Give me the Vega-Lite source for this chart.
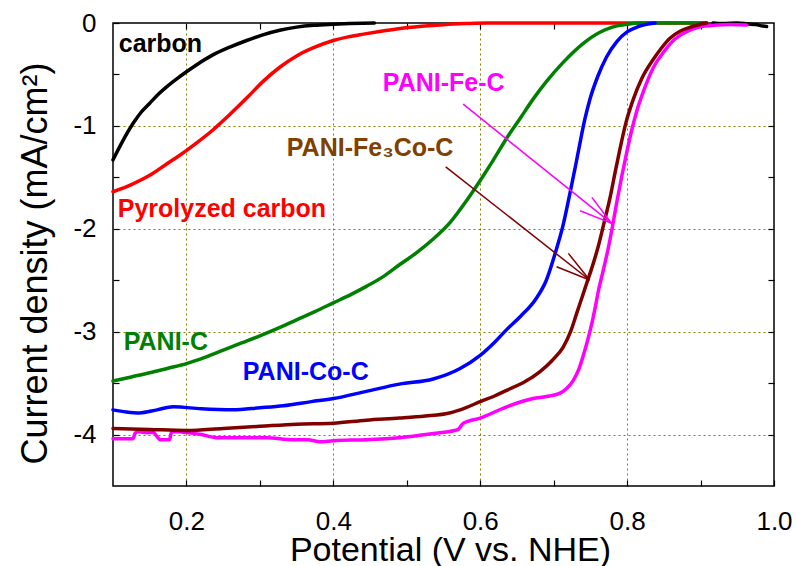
{
  "$schema": "https://vega.github.io/schema/vega-lite/v6.json",
  "width": 661,
  "height": 463,
  "autosize": "none",
  "padding": {"left": 113, "top": 23, "right": 22, "bottom": 80},
  "background": "white",
  "config": {
    "view": {"stroke": "black", "strokeWidth": 1.5},
    "axis": {"labelFont": "Liberation Sans", "titleFont": "Liberation Sans", "labelColor": "black", "titleColor": "black", "tickColor": "black", "tickWidth": 1.2, "domain": false, "titleFontWeight": "normal"}
  },
  "datasets": {
    "curves": [
      {"s": "carbon", "seg": "a", "x": 0.100, "y": -1.33},
      {"s": "carbon", "seg": "a", "x": 0.113, "y": -1.15},
      {"s": "carbon", "seg": "a", "x": 0.127, "y": -0.98},
      {"s": "carbon", "seg": "a", "x": 0.138, "y": -0.87},
      {"s": "carbon", "seg": "a", "x": 0.150, "y": -0.78},
      {"s": "carbon", "seg": "a", "x": 0.162, "y": -0.69},
      {"s": "carbon", "seg": "a", "x": 0.173, "y": -0.62},
      {"s": "carbon", "seg": "a", "x": 0.191, "y": -0.52},
      {"s": "carbon", "seg": "a", "x": 0.213, "y": -0.41},
      {"s": "carbon", "seg": "a", "x": 0.236, "y": -0.31},
      {"s": "carbon", "seg": "a", "x": 0.259, "y": -0.235},
      {"s": "carbon", "seg": "a", "x": 0.282, "y": -0.17},
      {"s": "carbon", "seg": "a", "x": 0.304, "y": -0.115},
      {"s": "carbon", "seg": "a", "x": 0.327, "y": -0.07},
      {"s": "carbon", "seg": "a", "x": 0.350, "y": -0.04},
      {"s": "carbon", "seg": "a", "x": 0.373, "y": -0.022},
      {"s": "carbon", "seg": "a", "x": 0.400, "y": -0.012},
      {"s": "carbon", "seg": "a", "x": 0.422, "y": -0.006},
      {"s": "carbon", "seg": "a", "x": 0.440, "y": -0.002},
      {"s": "carbon", "seg": "a", "x": 0.456, "y": 0},
      {"s": "carbon", "seg": "b", "x": 0.917, "y": 0},
      {"s": "carbon", "seg": "b", "x": 0.930, "y": -0.005},
      {"s": "carbon", "seg": "b", "x": 0.950, "y": 0},
      {"s": "carbon", "seg": "b", "x": 0.965, "y": -0.01},
      {"s": "carbon", "seg": "b", "x": 0.975, "y": -0.015},
      {"s": "carbon", "seg": "b", "x": 0.985, "y": -0.03},
      {"s": "carbon", "seg": "b", "x": 0.990, "y": -0.035},
      {"s": "pyro", "seg": "a", "x": 0.100, "y": -1.64},
      {"s": "pyro", "seg": "a", "x": 0.125, "y": -1.57},
      {"s": "pyro", "seg": "a", "x": 0.150, "y": -1.48},
      {"s": "pyro", "seg": "a", "x": 0.175, "y": -1.36},
      {"s": "pyro", "seg": "a", "x": 0.191, "y": -1.285},
      {"s": "pyro", "seg": "a", "x": 0.213, "y": -1.17},
      {"s": "pyro", "seg": "a", "x": 0.236, "y": -1.04},
      {"s": "pyro", "seg": "a", "x": 0.259, "y": -0.89},
      {"s": "pyro", "seg": "a", "x": 0.282, "y": -0.73},
      {"s": "pyro", "seg": "a", "x": 0.304, "y": -0.57},
      {"s": "pyro", "seg": "a", "x": 0.327, "y": -0.43},
      {"s": "pyro", "seg": "a", "x": 0.350, "y": -0.32},
      {"s": "pyro", "seg": "a", "x": 0.373, "y": -0.24},
      {"s": "pyro", "seg": "a", "x": 0.400, "y": -0.17},
      {"s": "pyro", "seg": "a", "x": 0.420, "y": -0.135},
      {"s": "pyro", "seg": "a", "x": 0.441, "y": -0.108},
      {"s": "pyro", "seg": "a", "x": 0.465, "y": -0.08},
      {"s": "pyro", "seg": "a", "x": 0.486, "y": -0.058},
      {"s": "pyro", "seg": "a", "x": 0.520, "y": -0.032},
      {"s": "pyro", "seg": "a", "x": 0.550, "y": -0.016},
      {"s": "pyro", "seg": "a", "x": 0.580, "y": -0.006},
      {"s": "pyro", "seg": "a", "x": 0.610, "y": 0},
      {"s": "pyro", "seg": "a", "x": 0.700, "y": 0},
      {"s": "pyro", "seg": "a", "x": 0.800, "y": 0},
      {"s": "pyro", "seg": "a", "x": 0.908, "y": 0},
      {"s": "pc", "seg": "a", "x": 0.100, "y": -3.48},
      {"s": "pc", "seg": "a", "x": 0.125, "y": -3.44},
      {"s": "pc", "seg": "a", "x": 0.150, "y": -3.40},
      {"s": "pc", "seg": "a", "x": 0.175, "y": -3.355},
      {"s": "pc", "seg": "a", "x": 0.200, "y": -3.31},
      {"s": "pc", "seg": "a", "x": 0.225, "y": -3.25},
      {"s": "pc", "seg": "a", "x": 0.250, "y": -3.18},
      {"s": "pc", "seg": "a", "x": 0.275, "y": -3.11},
      {"s": "pc", "seg": "a", "x": 0.300, "y": -3.04},
      {"s": "pc", "seg": "a", "x": 0.325, "y": -2.965},
      {"s": "pc", "seg": "a", "x": 0.350, "y": -2.885},
      {"s": "pc", "seg": "a", "x": 0.375, "y": -2.805},
      {"s": "pc", "seg": "a", "x": 0.400, "y": -2.72},
      {"s": "pc", "seg": "a", "x": 0.425, "y": -2.635},
      {"s": "pc", "seg": "a", "x": 0.445, "y": -2.56},
      {"s": "pc", "seg": "a", "x": 0.470, "y": -2.455},
      {"s": "pc", "seg": "a", "x": 0.490, "y": -2.35},
      {"s": "pc", "seg": "a", "x": 0.513, "y": -2.235},
      {"s": "pc", "seg": "a", "x": 0.536, "y": -2.10},
      {"s": "pc", "seg": "a", "x": 0.560, "y": -1.93},
      {"s": "pc", "seg": "a", "x": 0.581, "y": -1.73},
      {"s": "pc", "seg": "a", "x": 0.600, "y": -1.53},
      {"s": "pc", "seg": "a", "x": 0.618, "y": -1.33},
      {"s": "pc", "seg": "a", "x": 0.636, "y": -1.12},
      {"s": "pc", "seg": "a", "x": 0.655, "y": -0.92},
      {"s": "pc", "seg": "a", "x": 0.672, "y": -0.74},
      {"s": "pc", "seg": "a", "x": 0.690, "y": -0.57},
      {"s": "pc", "seg": "a", "x": 0.712, "y": -0.39},
      {"s": "pc", "seg": "a", "x": 0.740, "y": -0.20},
      {"s": "pc", "seg": "a", "x": 0.763, "y": -0.09},
      {"s": "pc", "seg": "a", "x": 0.780, "y": -0.04},
      {"s": "pc", "seg": "a", "x": 0.800, "y": -0.012},
      {"s": "pc", "seg": "a", "x": 0.820, "y": 0},
      {"s": "pc", "seg": "a", "x": 0.908, "y": 0},
      {"s": "pcoc", "seg": "a", "x": 0.100, "y": -3.76},
      {"s": "pcoc", "seg": "a", "x": 0.118, "y": -3.78},
      {"s": "pcoc", "seg": "a", "x": 0.136, "y": -3.79},
      {"s": "pcoc", "seg": "a", "x": 0.160, "y": -3.76},
      {"s": "pcoc", "seg": "a", "x": 0.182, "y": -3.73},
      {"s": "pcoc", "seg": "a", "x": 0.220, "y": -3.75},
      {"s": "pcoc", "seg": "a", "x": 0.263, "y": -3.76},
      {"s": "pcoc", "seg": "a", "x": 0.300, "y": -3.74},
      {"s": "pcoc", "seg": "a", "x": 0.332, "y": -3.72},
      {"s": "pcoc", "seg": "a", "x": 0.370, "y": -3.68},
      {"s": "pcoc", "seg": "a", "x": 0.400, "y": -3.65},
      {"s": "pcoc", "seg": "a", "x": 0.445, "y": -3.58},
      {"s": "pcoc", "seg": "a", "x": 0.490, "y": -3.51},
      {"s": "pcoc", "seg": "a", "x": 0.536, "y": -3.46},
      {"s": "pcoc", "seg": "a", "x": 0.572, "y": -3.36},
      {"s": "pcoc", "seg": "a", "x": 0.600, "y": -3.23},
      {"s": "pcoc", "seg": "a", "x": 0.620, "y": -3.10},
      {"s": "pcoc", "seg": "a", "x": 0.636, "y": -2.98},
      {"s": "pcoc", "seg": "a", "x": 0.655, "y": -2.85},
      {"s": "pcoc", "seg": "a", "x": 0.676, "y": -2.68},
      {"s": "pcoc", "seg": "a", "x": 0.690, "y": -2.50},
      {"s": "pcoc", "seg": "a", "x": 0.702, "y": -2.24},
      {"s": "pcoc", "seg": "a", "x": 0.713, "y": -1.96},
      {"s": "pcoc", "seg": "a", "x": 0.722, "y": -1.66},
      {"s": "pcoc", "seg": "a", "x": 0.730, "y": -1.38},
      {"s": "pcoc", "seg": "a", "x": 0.736, "y": -1.16},
      {"s": "pcoc", "seg": "a", "x": 0.742, "y": -0.95},
      {"s": "pcoc", "seg": "a", "x": 0.749, "y": -0.75},
      {"s": "pcoc", "seg": "a", "x": 0.760, "y": -0.52},
      {"s": "pcoc", "seg": "a", "x": 0.772, "y": -0.33},
      {"s": "pcoc", "seg": "a", "x": 0.786, "y": -0.18},
      {"s": "pcoc", "seg": "a", "x": 0.800, "y": -0.087},
      {"s": "pcoc", "seg": "a", "x": 0.815, "y": -0.035},
      {"s": "pcoc", "seg": "a", "x": 0.838, "y": 0},
      {"s": "pfec", "seg": "a", "x": 0.100, "y": -4.04},
      {"s": "pfec", "seg": "a", "x": 0.127, "y": -4.04},
      {"s": "pfec", "seg": "a", "x": 0.130, "y": -3.99},
      {"s": "pfec", "seg": "a", "x": 0.133, "y": -3.97},
      {"s": "pfec", "seg": "a", "x": 0.145, "y": -3.98},
      {"s": "pfec", "seg": "a", "x": 0.155, "y": -3.98},
      {"s": "pfec", "seg": "a", "x": 0.160, "y": -4.02},
      {"s": "pfec", "seg": "a", "x": 0.164, "y": -4.05},
      {"s": "pfec", "seg": "a", "x": 0.177, "y": -4.05},
      {"s": "pfec", "seg": "a", "x": 0.179, "y": -3.99},
      {"s": "pfec", "seg": "a", "x": 0.181, "y": -3.97},
      {"s": "pfec", "seg": "a", "x": 0.200, "y": -3.98},
      {"s": "pfec", "seg": "a", "x": 0.220, "y": -4.00},
      {"s": "pfec", "seg": "a", "x": 0.241, "y": -4.03},
      {"s": "pfec", "seg": "a", "x": 0.270, "y": -4.03},
      {"s": "pfec", "seg": "a", "x": 0.309, "y": -4.03},
      {"s": "pfec", "seg": "a", "x": 0.345, "y": -4.05},
      {"s": "pfec", "seg": "a", "x": 0.365, "y": -4.05},
      {"s": "pfec", "seg": "a", "x": 0.382, "y": -4.07},
      {"s": "pfec", "seg": "a", "x": 0.400, "y": -4.06},
      {"s": "pfec", "seg": "a", "x": 0.445, "y": -4.05},
      {"s": "pfec", "seg": "a", "x": 0.490, "y": -4.03},
      {"s": "pfec", "seg": "a", "x": 0.536, "y": -3.99},
      {"s": "pfec", "seg": "a", "x": 0.565, "y": -3.96},
      {"s": "pfec", "seg": "a", "x": 0.570, "y": -3.95},
      {"s": "pfec", "seg": "a", "x": 0.577, "y": -3.89},
      {"s": "pfec", "seg": "a", "x": 0.600, "y": -3.84},
      {"s": "pfec", "seg": "a", "x": 0.636, "y": -3.73},
      {"s": "pfec", "seg": "a", "x": 0.672, "y": -3.65},
      {"s": "pfec", "seg": "a", "x": 0.690, "y": -3.63},
      {"s": "pfec", "seg": "a", "x": 0.708, "y": -3.60},
      {"s": "pfec", "seg": "a", "x": 0.718, "y": -3.55},
      {"s": "pfec", "seg": "a", "x": 0.727, "y": -3.47},
      {"s": "pfec", "seg": "a", "x": 0.734, "y": -3.37},
      {"s": "pfec", "seg": "a", "x": 0.740, "y": -3.24},
      {"s": "pfec", "seg": "a", "x": 0.746, "y": -3.09},
      {"s": "pfec", "seg": "a", "x": 0.752, "y": -2.92},
      {"s": "pfec", "seg": "a", "x": 0.757, "y": -2.75},
      {"s": "pfec", "seg": "a", "x": 0.761, "y": -2.60},
      {"s": "pfec", "seg": "a", "x": 0.767, "y": -2.42},
      {"s": "pfec", "seg": "a", "x": 0.774, "y": -2.20},
      {"s": "pfec", "seg": "a", "x": 0.780, "y": -1.98},
      {"s": "pfec", "seg": "a", "x": 0.786, "y": -1.74},
      {"s": "pfec", "seg": "a", "x": 0.793, "y": -1.48},
      {"s": "pfec", "seg": "a", "x": 0.800, "y": -1.24},
      {"s": "pfec", "seg": "a", "x": 0.806, "y": -1.05},
      {"s": "pfec", "seg": "a", "x": 0.813, "y": -0.86},
      {"s": "pfec", "seg": "a", "x": 0.824, "y": -0.63},
      {"s": "pfec", "seg": "a", "x": 0.836, "y": -0.43},
      {"s": "pfec", "seg": "a", "x": 0.850, "y": -0.28},
      {"s": "pfec", "seg": "a", "x": 0.863, "y": -0.17},
      {"s": "pfec", "seg": "a", "x": 0.877, "y": -0.10},
      {"s": "pfec", "seg": "a", "x": 0.891, "y": -0.055},
      {"s": "pfec", "seg": "a", "x": 0.905, "y": -0.03},
      {"s": "pfec", "seg": "a", "x": 0.922, "y": -0.02},
      {"s": "pfec", "seg": "a", "x": 0.940, "y": -0.015},
      {"s": "pfec", "seg": "a", "x": 0.963, "y": -0.02},
      {"s": "pfecoc", "seg": "a", "x": 0.100, "y": -3.94},
      {"s": "pfecoc", "seg": "a", "x": 0.150, "y": -3.95},
      {"s": "pfecoc", "seg": "a", "x": 0.200, "y": -3.96},
      {"s": "pfecoc", "seg": "a", "x": 0.250, "y": -3.94},
      {"s": "pfecoc", "seg": "a", "x": 0.300, "y": -3.92},
      {"s": "pfecoc", "seg": "a", "x": 0.350, "y": -3.90},
      {"s": "pfecoc", "seg": "a", "x": 0.400, "y": -3.89},
      {"s": "pfecoc", "seg": "a", "x": 0.445, "y": -3.86},
      {"s": "pfecoc", "seg": "a", "x": 0.490, "y": -3.84},
      {"s": "pfecoc", "seg": "a", "x": 0.525, "y": -3.82},
      {"s": "pfecoc", "seg": "a", "x": 0.558, "y": -3.79},
      {"s": "pfecoc", "seg": "a", "x": 0.580, "y": -3.74},
      {"s": "pfecoc", "seg": "a", "x": 0.600, "y": -3.68},
      {"s": "pfecoc", "seg": "a", "x": 0.618, "y": -3.63},
      {"s": "pfecoc", "seg": "a", "x": 0.636, "y": -3.57},
      {"s": "pfecoc", "seg": "a", "x": 0.660, "y": -3.49},
      {"s": "pfecoc", "seg": "a", "x": 0.681, "y": -3.39},
      {"s": "pfecoc", "seg": "a", "x": 0.698, "y": -3.28},
      {"s": "pfecoc", "seg": "a", "x": 0.713, "y": -3.15},
      {"s": "pfecoc", "seg": "a", "x": 0.723, "y": -3.00},
      {"s": "pfecoc", "seg": "a", "x": 0.731, "y": -2.83},
      {"s": "pfecoc", "seg": "a", "x": 0.738, "y": -2.68},
      {"s": "pfecoc", "seg": "a", "x": 0.745, "y": -2.53},
      {"s": "pfecoc", "seg": "a", "x": 0.752, "y": -2.38},
      {"s": "pfecoc", "seg": "a", "x": 0.760, "y": -2.19},
      {"s": "pfecoc", "seg": "a", "x": 0.768, "y": -1.96},
      {"s": "pfecoc", "seg": "a", "x": 0.777, "y": -1.69},
      {"s": "pfecoc", "seg": "a", "x": 0.784, "y": -1.44},
      {"s": "pfecoc", "seg": "a", "x": 0.791, "y": -1.20},
      {"s": "pfecoc", "seg": "a", "x": 0.798, "y": -0.98},
      {"s": "pfecoc", "seg": "a", "x": 0.808, "y": -0.75},
      {"s": "pfecoc", "seg": "a", "x": 0.820, "y": -0.54},
      {"s": "pfecoc", "seg": "a", "x": 0.836, "y": -0.35},
      {"s": "pfecoc", "seg": "a", "x": 0.846, "y": -0.25},
      {"s": "pfecoc", "seg": "a", "x": 0.858, "y": -0.15},
      {"s": "pfecoc", "seg": "a", "x": 0.872, "y": -0.08},
      {"s": "pfecoc", "seg": "a", "x": 0.886, "y": -0.04},
      {"s": "pfecoc", "seg": "a", "x": 0.908, "y": 0}
    ],
    "labels": [
      {"label": "carbon", "x": 0.1078, "y": -0.207},
      {"label": "Pyrolyzed carbon", "x": 0.1064, "y": -1.81},
      {"label": "PANI-C", "x": 0.1146, "y": -3.10},
      {"label": "PANI-Co-C", "x": 0.2767, "y": -3.39},
      {"label": "PANI-Fe-C", "x": 0.4674, "y": -0.585},
      {"label": "PANI-Fe₃Co-C", "x": 0.3366, "y": -1.217}
    ],
    "arrows": [
      {"a": "Fe", "x": 0.5768, "y": -0.789, "x2": 0.779, "y2": -1.948},
      {"a": "Fe", "x": 0.779, "y": -1.948, "x2": 0.752, "y2": -1.695},
      {"a": "Fe", "x": 0.779, "y": -1.948, "x2": 0.736, "y2": -1.825},
      {"a": "FeCo", "x": 0.553, "y": -1.398, "x2": 0.749, "y2": -2.498},
      {"a": "FeCo", "x": 0.749, "y": -2.498, "x2": 0.720, "y2": -2.239},
      {"a": "FeCo", "x": 0.749, "y": -2.498, "x2": 0.704, "y2": -2.369}
    ]
  },
  "layer": [
    {
      "data": {"name": "curves"},
      "mark": {"type": "line", "strokeWidth": 3.5, "strokeCap": "round", "strokeJoin": "round", "interpolate": "monotone"},
      "encoding": {
        "x": {
          "field": "x", "type": "quantitative",
          "scale": {"domain": [0.1, 1.0], "nice": false, "zero": false},
          "axis": {
            "orient": "bottom",
            "values": [0.2, 0.3, 0.4, 0.5, 0.6, 0.7, 0.8, 0.9, 1.0],
            "labelExpr": "round(datum.value*10) % 2 == 0 ? format(datum.value, '.1f') : ''",
            "labelFontSize": 26, "labelPadding": 28, "tickSize": -6, "labelFlush": false,
            "grid": true, "gridColor": "#808000", "gridDash": [2, 3], "gridWidth": 1,
            "gridOpacity": {"condition": {"test": "round(datum.value*10) % 2 == 1 || datum.value > 0.95", "value": 0}, "value": 1},
            "title": "Potential (V vs. NHE)", "titleFontSize": 34,
            "titleX": 337, "titleY": 74, "titleBaseline": "alphabetic"
          }
        },
        "y": {
          "field": "y", "type": "quantitative",
          "scale": {"domain": [-4.5, 0], "nice": false, "zero": false},
          "axis": {
            "orient": "left",
            "values": [-4, -3.5, -3, -2.5, -2, -1.5, -1, -0.5, 0],
            "labelExpr": "datum.value % 1 == 0 ? '' + datum.value : ''",
            "labelFontSize": 26, "labelPadding": 23, "tickSize": -6,
            "grid": true, "gridColor": "#808000", "gridDash": [2, 3], "gridWidth": 1,
            "gridOpacity": {"condition": {"test": "datum.value % 1 != 0 || datum.value == 0", "value": 0}, "value": 1},
            "title": "Current density (mA/cm²)", "titleFontSize": 36,
            "titleX": -66.6, "titleY": 240, "titleBaseline": "alphabetic", "titleAngle": -90
          }
        },
        "color": {
          "field": "s", "type": "nominal", "legend": null,
          "scale": {"domain": ["carbon", "pyro", "pc", "pcoc", "pfec", "pfecoc"], "range": ["#000000", "#ff0000", "#008000", "#0000ff", "#ff00ff", "#800000"]}
        },
        "detail": {"field": "seg"}
      }
    },
    {
      "data": {"name": "arrows"},
      "mark": {"type": "rule", "strokeWidth": 1.5},
      "encoding": {
        "x": {
          "field": "x", "type": "quantitative",
          "scale": {"domain": [0.1, 1.0], "nice": false, "zero": false},
          "axis": {"orient": "top", "values": [0.2, 0.3, 0.4, 0.5, 0.6, 0.7, 0.8, 0.9], "labels": false, "tickSize": -6, "grid": false, "title": null}
        },
        "x2": {"field": "x2"},
        "y": {
          "field": "y", "type": "quantitative",
          "scale": {"domain": [-4.5, 0], "nice": false, "zero": false},
          "axis": {"orient": "right", "values": [-4, -3.5, -3, -2.5, -2, -1.5, -1, -0.5], "labels": false, "tickSize": -6, "grid": false, "title": null}
        },
        "y2": {"field": "y2"},
        "color": {
          "field": "a", "type": "nominal", "legend": null,
          "scale": {"domain": ["Fe", "FeCo"], "range": ["#ff00ff", "#800000"]}
        }
      }
    },
    {
      "data": {"name": "labels"},
      "mark": {"type": "text", "font": "Liberation Sans", "fontWeight": "bold", "fontSize": 25, "align": "left", "baseline": "middle"},
      "encoding": {
        "x": {"field": "x", "type": "quantitative", "scale": {"domain": [0.1, 1.0], "nice": false, "zero": false}, "axis": null},
        "y": {"field": "y", "type": "quantitative", "scale": {"domain": [-4.5, 0], "nice": false, "zero": false}, "axis": null},
        "text": {"field": "label"},
        "color": {
          "field": "label", "type": "nominal", "legend": null,
          "scale": {"domain": ["carbon", "Pyrolyzed carbon", "PANI-C", "PANI-Co-C", "PANI-Fe-C", "PANI-Fe₃Co-C"], "range": ["#000000", "#ff0000", "#008000", "#0000ff", "#ff00ff", "#804000"]}
        }
      }
    }
  ],
  "resolve": {"scale": {"color": "independent"}, "axis": {"x": "independent", "y": "independent"}}
}
